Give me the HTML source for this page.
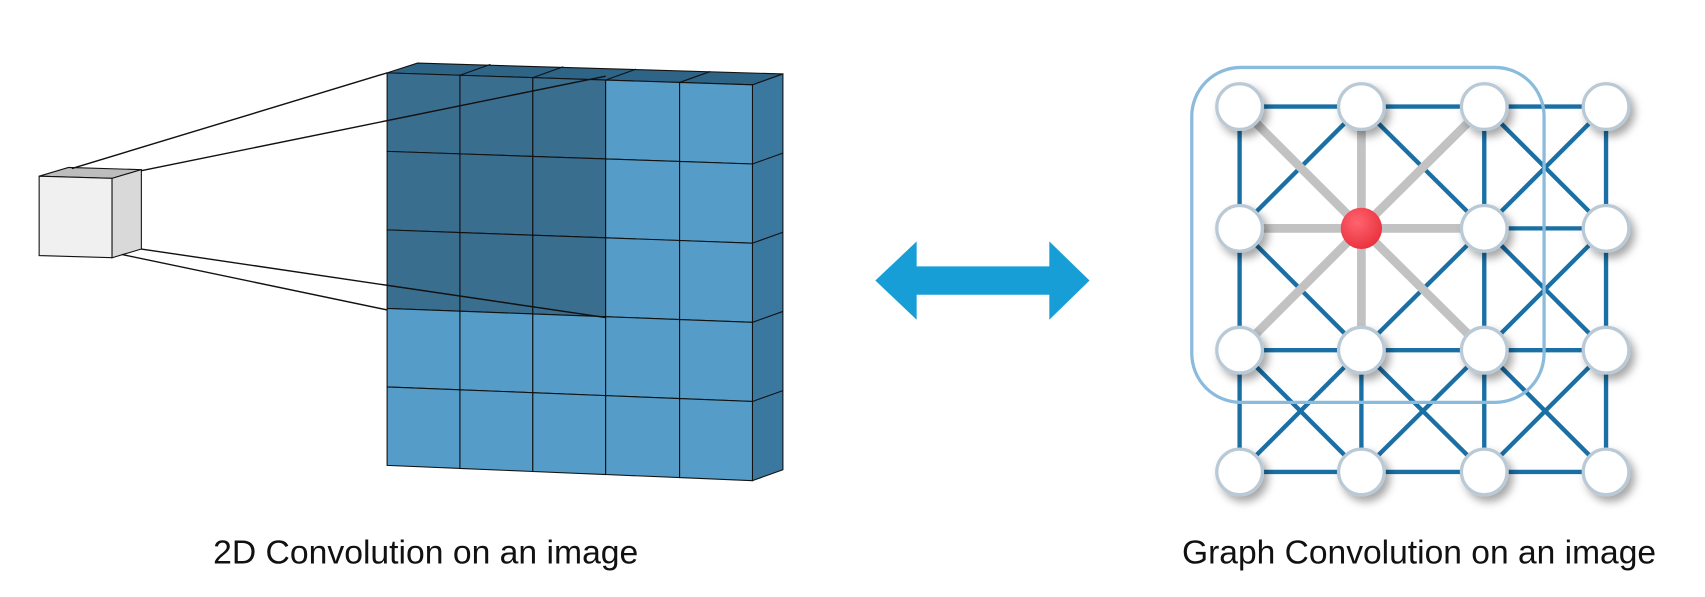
<!DOCTYPE html>
<html><head><meta charset="utf-8"><style>
html,body{margin:0;padding:0;background:#fff;}
svg{display:block;}
text{font-family:"Liberation Sans",sans-serif;}
</style></head><body>
<svg width="1705" height="597" viewBox="0 0 1568 549" xmlns="http://www.w3.org/2000/svg">
<defs>
<filter id="sh" x="-50%" y="-50%" width="200%" height="200%"><feDropShadow dx="4" dy="5" stdDeviation="4" flood-color="#000" flood-opacity="0.35"/></filter>
<radialGradient id="rg" cx="40%" cy="35%" r="70%"><stop offset="0" stop-color="#ff6470"/><stop offset="1" stop-color="#e8303c"/></radialGradient>
</defs>
<g id="left"></g>
<g id="arrow">
<polygon points="805,258 843,222 843,245 965,245 965,222 1002,258 965,294 965,271 843,271 843,294" fill="#189ed6"/>
</g>
<g id="graph"></g>
<text x="196" y="518" font-size="31" textLength="391" lengthAdjust="spacingAndGlyphs" fill="#111">2D Convolution on an image</text>
<text x="1087" y="518" font-size="31" textLength="436" lengthAdjust="spacingAndGlyphs" fill="#111">Graph Convolution on an image</text>
</svg>
<script>
const NS="http://www.w3.org/2000/svg";
function mk(p,t,a){const e=document.createElementNS(NS,t);for(const k in a)e.setAttribute(k,a[k]);p.appendChild(e);return e;}
const L=document.getElementById('left');
const colsX=[356,423,490,557,625,692];
const topL=67,topR=78,botL=428,botR=442;
function gy(r,x){const t=(x-356)/336;const yt=topL+(topR-topL)*t,yb=botL+(botR-botL)*t;return yt+(yb-yt)*r/5;}
let tf=mk(L,'polygon',{points:`356,67 384,58 720,68 692,78`,fill:'#2e6486',stroke:'#111','stroke-width':1});


for(let c=1;c<5;c++){const x=colsX[c];mk(L,'line',{x1:x,y1:gy(0,x),x2:x+28,y2:gy(0,x)-10,stroke:'#111','stroke-width':1});}
let sf=mk(L,'polygon',{points:`692,78 720,68 720,432 692,442`,fill:'#3a78a0',stroke:'#111','stroke-width':1});


for(let r=1;r<5;r++){const y=gy(r,692);mk(L,'line',{x1:692,y1:y,x2:720,y2:y-10,stroke:'#111','stroke-width':1});}
for(let r=0;r<5;r++)for(let c=0;c<5;c++){
 const x0=colsX[c],x1=colsX[c+1];
 const dark=(r<3&&c<3);
 const p=mk(L,'polygon',{points:`${x0},${gy(r,x0)} ${x1},${gy(r,x1)} ${x1},${gy(r+1,x1)} ${x0},${gy(r+1,x0)}`,fill:dark?'#3a6e8f':'#559dc8',stroke:'#111','stroke-width':1});
 
 
}
const cube=mk(L,'g',{});


mk(cube,'polygon',{points:'36,162 63,154 130,156 103,164',fill:'#bdbdbd',stroke:'#111','stroke-width':1});
mk(cube,'polygon',{points:'103,164 130,156 130,229 103,237',fill:'#d9d9d9',stroke:'#111','stroke-width':1});
mk(cube,'polygon',{points:'36,162 103,164 103,237 36,235',fill:'#f0f0f0',stroke:'#111','stroke-width':1});
[[66,155,356,67],[130,157,557,70],[130,229,557,292],[112,234,356,285]].forEach(l=>{
 const e=mk(L,'line',{x1:l[0],y1:l[1],x2:l[2],y2:l[3],stroke:'#111','stroke-width':1.3});
 
 
});
const G=document.getElementById('graph');
const nx=[1140,1252,1365,1477],ny=[98,210,322,434];
const cc=[1,1];
const edges=[];
for(let r=0;r<4;r++)for(let c=0;c<4;c++){
 if(c<3)edges.push([r,c,r,c+1]);
 if(r<3)edges.push([r,c,r+1,c]);
 if(r<3&&c<3){edges.push([r,c,r+1,c+1]);edges.push([r,c+1,r+1,c]);}
}
const isC=(r,c)=>r===cc[0]&&c===cc[1];
edges.forEach(e=>{if(isC(e[0],e[1])||isC(e[2],e[3]))return;
 const l=mk(G,'line',{x1:nx[e[1]],y1:ny[e[0]],x2:nx[e[3]],y2:ny[e[2]],stroke:'#1a6fa4','stroke-width':4});
 
 
});
edges.forEach(e=>{if(!(isC(e[0],e[1])||isC(e[2],e[3])))return;
 const l=mk(G,'line',{x1:nx[e[1]],y1:ny[e[0]],x2:nx[e[3]],y2:ny[e[2]],stroke:'#c2c2c2','stroke-width':8});
 
 
});
const rr=mk(G,'rect',{x:1096,y:62,width:324,height:308,rx:45,fill:'none',stroke:'#8bbbdc','stroke-width':3});


for(let r=0;r<4;r++)for(let c=0;c<4;c++){
 if(isC(r,c)){const n=mk(G,'circle',{cx:nx[c],cy:ny[r],r:19,fill:'url(#rg)'});
  
  continue;}
 const n=mk(G,'circle',{cx:nx[c],cy:ny[r],r:21,fill:'#fff',stroke:'#b9c9d5','stroke-width':3,filter:'url(#sh)'});
 
 
}
</script>
</body></html>
